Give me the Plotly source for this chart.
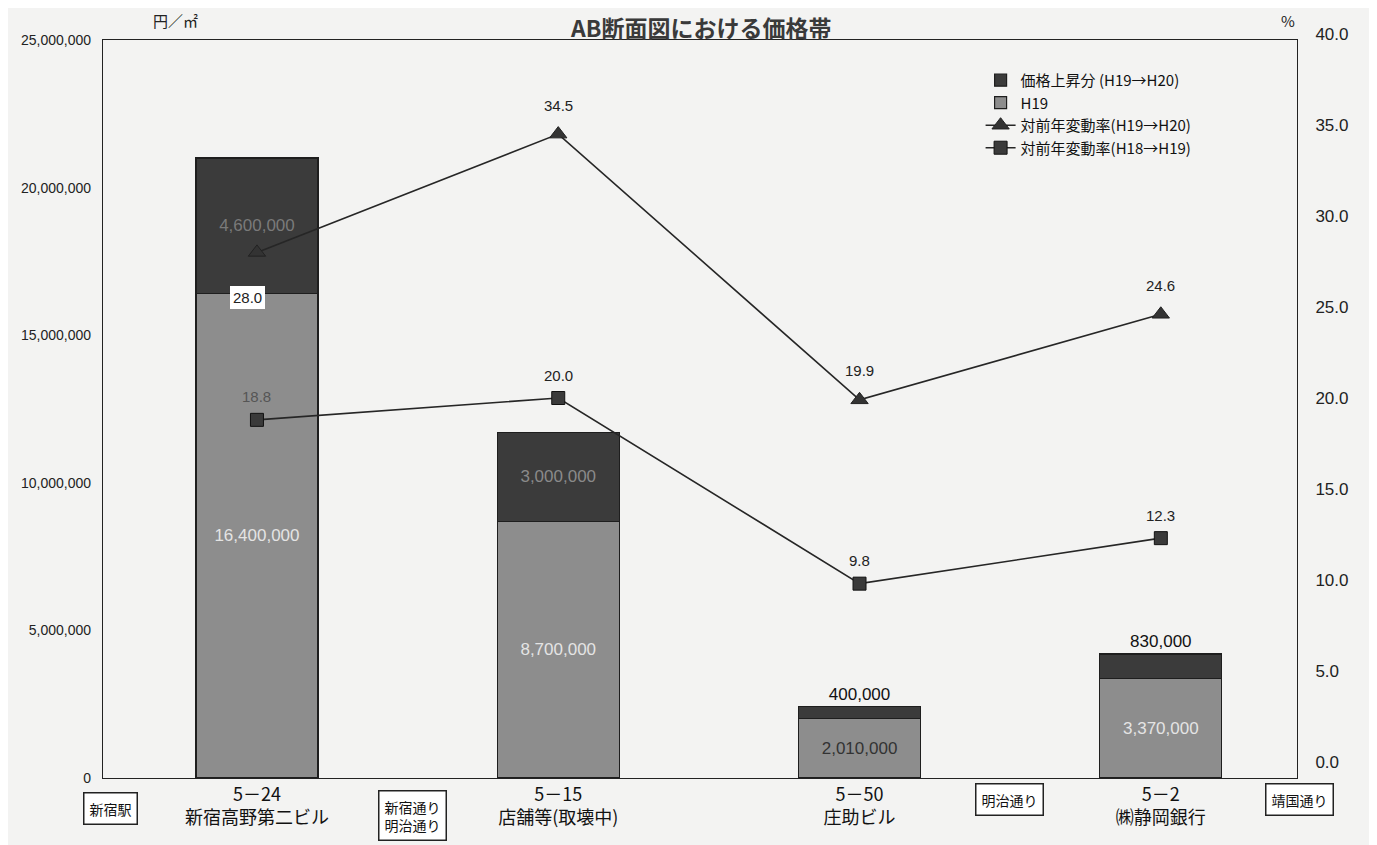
import plotly.graph_objects as go

# ---- data ----
codes = ["5－24", "5－15", "5－50", "5－2"]
names = ["新宿高野第二ビル", "店舗等(取壊中)", "庄助ビル", "㈱静岡銀行"]
h19 = [16400000, 8700000, 2010000, 3370000]
increase = [4600000, 3000000, 400000, 830000]
rate_h19_h20 = [28.0, 34.5, 19.9, 24.6]
rate_h18_h19 = [18.8, 20.0, 9.8, 12.3]
left_ticks = [0, 5000000, 10000000, 15000000, 20000000, 25000000]
right_ticks = [0, 5, 10, 15, 20, 25, 30, 35, 40]
streets = ["新宿駅", "新宿通り<br>明治通り", "明治通り", "靖国通り"]

FONT = "Liberation Sans, Noto Sans CJK JP, sans-serif"
JFONT = "Noto Sans CJK JP, sans-serif"
BG = "#f3f3f2"

ticktext = [f"{c}<br>{n}" for c, n in zip(codes, names)]

fig = go.Figure()

fig.add_trace(go.Bar(
    x=codes, y=h19, name="H19", legendrank=2,
    marker=dict(color="#8d8d8d", line=dict(color="#1e1e1e", width=1.2)),
    width=0.405,
    text=[f"{v:,}" for v in h19], textposition="inside", insidetextanchor="middle",
    textfont=dict(family=FONT, size=17, color=["#e4e4e4", "#e4e4e4", "#333333", "#e4e4e4"]),
    constraintext="none",
))
fig.add_trace(go.Bar(
    x=codes, y=increase, name="価格上昇分 (H19→H20)", legendrank=1,
    marker=dict(color="#3b3b3b", line=dict(color="#1e1e1e", width=1.2)),
    width=0.405,
    text=[f"{v:,}" for v in increase],
    textposition=["inside", "inside", "outside", "outside"],
    insidetextanchor="middle",
    textfont=dict(family=FONT, size=17, color=["#7a7a7a", "#8a8a8a", "#111111", "#111111"]),
    constraintext="none", cliponaxis=False,
))
fig.add_trace(go.Scatter(
    x=codes, y=rate_h19_h20, xaxis="x2", yaxis="y2", mode="lines+markers",
    name="対前年変動率(H19→H20)", legendrank=3,
    line=dict(color="#262626", width=1.6),
    marker=dict(symbol="triangle-up", size=15, color="#333333", line=dict(color="#222", width=1)),
))
fig.add_trace(go.Scatter(
    x=codes, y=rate_h18_h19, xaxis="x2", yaxis="y2", mode="lines+markers",
    name="対前年変動率(H18→H19)", legendrank=4,
    line=dict(color="#262626", width=1.6),
    marker=dict(symbol="square", size=13, color="#3a3a3a", line=dict(color="#111", width=1)),
))

annotations = []
# line value labels
for i, (c, v) in enumerate(zip(codes, rate_h19_h20)):
    if i == 0:
        annotations.append(dict(x=c, y=v, xref="x2", yref="y2", text=f"{v:.1f}", showarrow=False,
                                xshift=-9, yshift=-45, bgcolor="#ffffff", bordercolor="#ffffff",
                                borderpad=2, font=dict(family=FONT, size=15, color="#222")))
    else:
        annotations.append(dict(x=c, y=v, xref="x2", yref="y2", text=f"{v:.1f}", showarrow=False,
                                yshift=29, font=dict(family=FONT, size=15, color="#222")))
for c, v in zip(codes, rate_h18_h19):
    annotations.append(dict(x=c, y=v, xref="x2", yref="y2", text=f"{v:.1f}", showarrow=False,
                            yshift=23, font=dict(family=FONT, size=15,
                                                 color="#555" if c == codes[0] else "#222")))

# street boxes at the bottom
street_pos = [(0.006, -0.040), (0.2596, -0.049), (0.7596, -0.029), (1.0025, -0.029)]
for s, (px, py) in zip(streets, street_pos):
    annotations.append(dict(x=px, y=py, xref="paper", yref="paper", text=s, showarrow=False,
                            xanchor="center", yanchor="middle", bgcolor="#ffffff",
                            bordercolor="#222222", borderwidth=1.5, borderpad=5,
                            font=dict(family=JFONT, size=14, color="#111")))

# title and units
annotations.append(dict(x=0.5, y=1.0158, xref="paper", yref="paper", text="<b>AB断面図における価格帯</b>",
                        showarrow=False, yanchor="top",
                        font=dict(family=JFONT, size=23, color="#3a3a3a")))
annotations.append(dict(x=0.04, y=1.0, xref="paper", yref="paper", text="円／㎡",
                        showarrow=False, yanchor="middle",
                        font=dict(family=JFONT, size=15, color="#222")))
annotations.append(dict(x=1.0, y=1.0158, xref="paper", yref="paper", text="%",
                        showarrow=False, yanchor="top",
                        font=dict(family=JFONT, size=15, color="#222")))

fig.update_layout(
    width=1377, height=845,
    margin=dict(l=95, r=88, t=12, b=75, autoexpand=False),
    paper_bgcolor=BG, plot_bgcolor="rgba(0,0,0,0)",
    barmode="stack",
    showlegend=True,
    legend=dict(x=0.735, y=0.942, xanchor="left", yanchor="top", traceorder="normal",
                bgcolor="rgba(0,0,0,0)", font=dict(family=JFONT, size=15, color="#111"),
                tracegroupgap=0, itemwidth=30),
    xaxis=dict(type="category", range=[-0.511, 3.452], tickvals=codes, ticktext=ticktext,
               showline=True, linecolor="#222", linewidth=1.3, mirror=True,
               ticks="", showgrid=False, automargin=False,
               tickfont=dict(family=JFONT, size=18, color="#111")),
    xaxis2=dict(type="category", overlaying="x", matches="x", visible=False, anchor="y2"),
    yaxis=dict(domain=[0, 0.9736], range=[0, 25000000], tickvals=left_ticks,
               tickformat=",d", showline=True, linecolor="#222", linewidth=1.3, mirror=True,
               showgrid=False, zeroline=False, ticks="outside", ticklen=8, tickcolor="rgba(0,0,0,0)",
               automargin=False,
               tickfont=dict(family=FONT, size=14, color="#222")),
    yaxis2=dict(domain=[0.0211, 0.9815], range=[0, 40], tickvals=right_ticks, tickformat=".1f",
                anchor="x2", side="right", showline=False, showgrid=False, zeroline=False,
                ticks="outside", ticklen=14, tickcolor="rgba(0,0,0,0)", automargin=False,
                tickfont=dict(family=FONT, size=17, color="#222")),
    annotations=annotations,
)

fig.write_html("out.html")
